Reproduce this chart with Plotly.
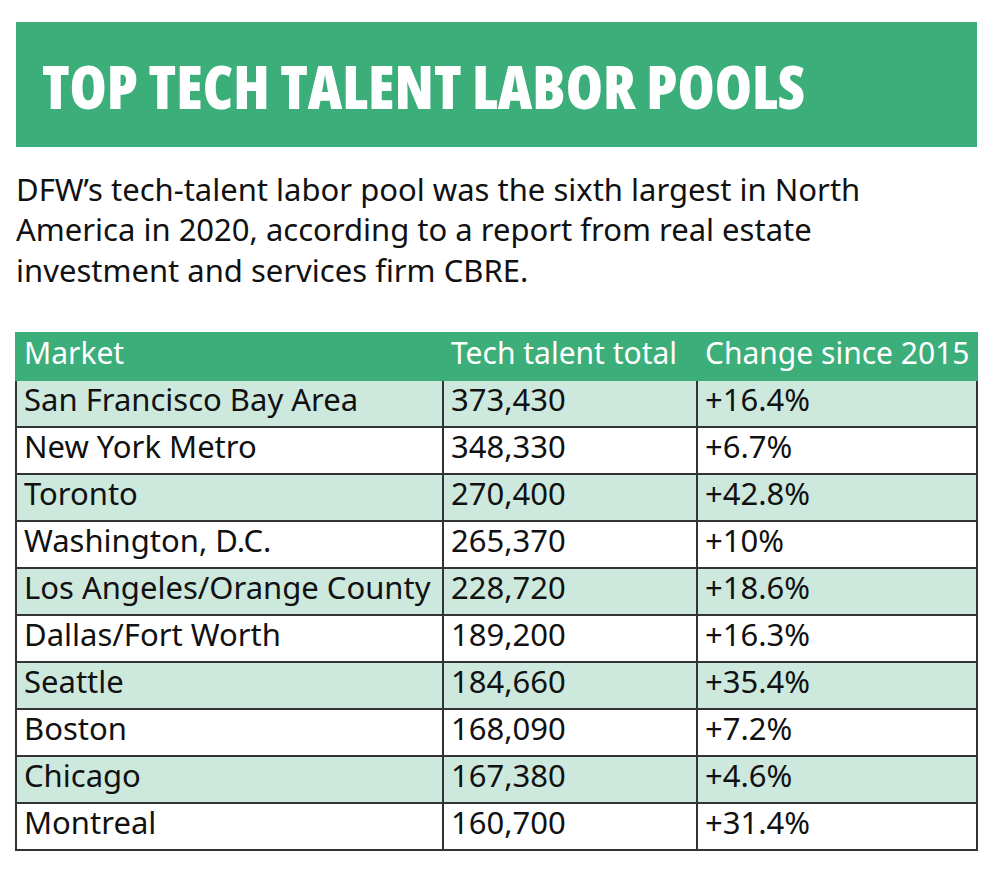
import plotly.graph_objects as go

# table data
markets = ["San Francisco Bay Area", "New York Metro", "Toronto", "Washington, D.C.",
           "Los Angeles/Orange County", "Dallas/Fort Worth", "Seattle", "Boston",
           "Chicago", "Montreal"]
talent_total = [373430, 348330, 270400, 265370, 228720, 189200, 184660, 168090, 167380, 160700]
change_2015 = [16.4, 6.7, 42.8, 10, 18.6, 16.3, 35.4, 7.2, 4.6, 31.4]
headers = ["Market", "Tech talent total", "Change since 2015"]

title = "TOP TECH TALENT LABOR POOLS"
blurb = ("DFW’s tech-talent labor pool was the sixth largest in North<br>"
         "America in 2020, according to a report from real estate<br>"
         "investment and services firm CBRE.")

GREEN = "#3bae7a"
LIGHT = "#cde8dd"
# the page body has an 8px margin, so the figure is drawn 8px in from the corner
OFF = 8
W, H = 1000 - 2 * OFF, 872 - 2 * OFF

def px(x):
    return (x - OFF) / W

def py(y):
    return 1 - (y - OFF) / H

def nb(s):
    # no-break spaces stop the table from wrapping long cells
    return s.replace(" ", "\u00a0")

row_fill = [LIGHT if i % 2 == 0 else "white" for i in range(len(markets))]
total_txt = [f"{v:,}" for v in talent_total]
change_txt = [f"+{v:g}%" for v in change_2015]
market_txt = [nb(m) for m in markets]
header_txt = [nb(h) for h in headers]

fig = go.Figure()
fig.add_trace(go.Table(
    domain=dict(x=[px(16), px(977)], y=[py(860), py(333)]),
    columnwidth=[427, 254, 280],
    header=dict(values=header_txt, fill_color=GREEN, line_color=GREEN, line_width=2,
                align="left", height=47,
                font=dict(family="Noto Sans", size=30, color="white")),
    cells=dict(values=[market_txt, total_txt, change_txt],
               fill_color=[row_fill] * 3, line_color="#333333", line_width=2,
               align="left", height=47,
               font=dict(family="Noto Sans", size=31, color="#111111")),
))

fig.add_shape(type="rect", xref="paper", yref="paper",
              x0=px(16), x1=px(977), y0=py(147), y1=py(22),
              fillcolor=GREEN, line_width=0, layer="below")
fig.add_annotation(text=f'<span style="font-stretch:75%;font-weight:800">{title}</span>',
                   xref="paper", yref="paper",
                   x=px(40), y=py(86), xanchor="left", yanchor="middle",
                   showarrow=False,
                   font=dict(family="Open Sans", size=60, color="white"))
fig.add_annotation(text=blurb, xref="paper", yref="paper",
                   x=px(14), y=py(166), xanchor="left", yanchor="top", align="left",
                   showarrow=False,
                   font=dict(family="Noto Sans", size=31, color="#111111"))

fig.update_layout(width=W, height=H, margin=dict(l=0, r=0, t=0, b=0),
                  paper_bgcolor="white", plot_bgcolor="white")
fig.write_html("out.html")
